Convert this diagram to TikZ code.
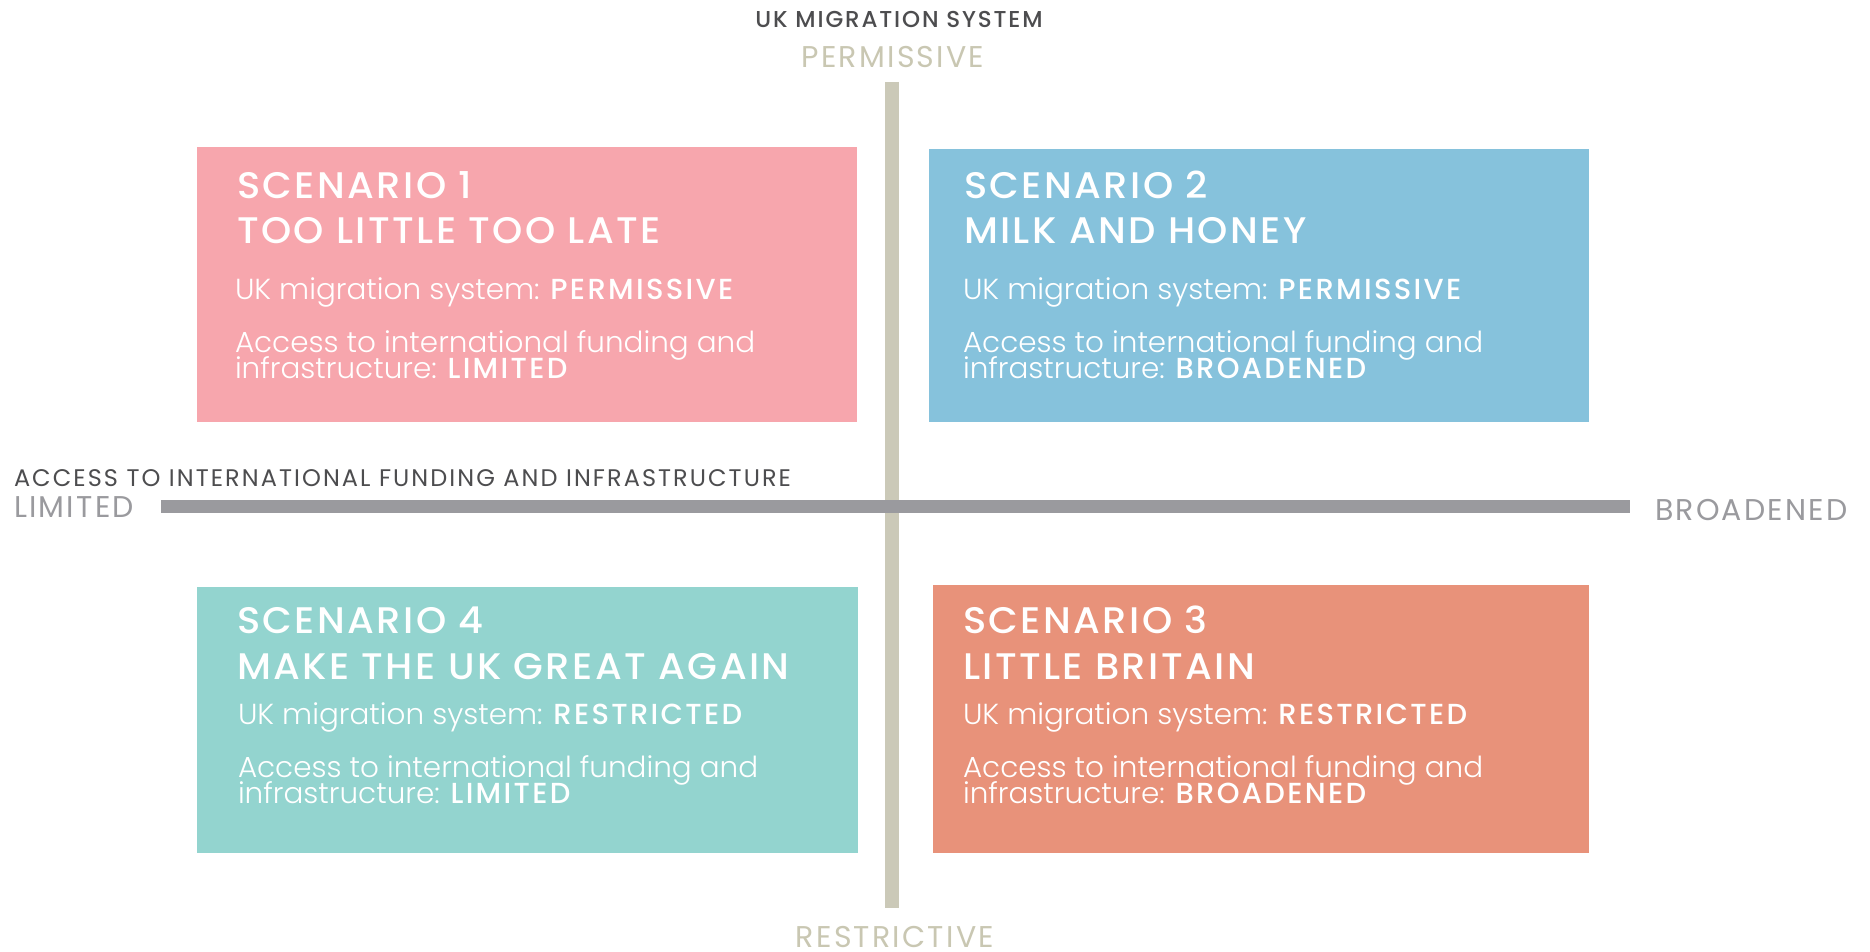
\documentclass[tikz,border=0pt]{standalone}
\usepackage{fontspec}
\IfFontExistsTF{Poppins Light}{\newfontfamily\fbody{Poppins Light}[FakeStretch=1.015]}{\newfontfamily\fbody{Poppins}[FakeStretch=1.015]}
\IfFontExistsTF{Poppins Medium}{%
  \newfontfamily\fmedA{Poppins Medium}[LetterSpace=6.5,FakeStretch=1.04]%
  \newfontfamily\fmedB{Poppins Medium}[LetterSpace=8]%
  \newfontfamily\fmedC{Poppins Medium}[LetterSpace=8]%
}{%
  \newfontfamily\fmedA{Poppins}[LetterSpace=6.5,FakeStretch=1.04]%
  \newfontfamily\fmedB{Poppins}[LetterSpace=8]%
  \newfontfamily\fmedC{Poppins}[LetterSpace=8]%
}
\newfontfamily\fregW{Poppins}[LetterSpace=7.5]
\newfontfamily\fregX{Poppins}[LetterSpace=8.6]
\definecolor{pinkc}{HTML}{F7A6AD}
\definecolor{bluec}{HTML}{86C2DC}
\definecolor{tealc}{HTML}{93D4CF}
\definecolor{salmonc}{HTML}{E8927A}
\definecolor{vlinec}{HTML}{CBC9B8}
\definecolor{axtxt}{HTML}{C9C7B2}
\definecolor{hlinec}{HTML}{9A9A9E}
\definecolor{darkc}{HTML}{4D4D4F}
\tikzset{
  txt/.style={anchor=base west, inner sep=0pt, outer sep=0pt},
  ctxt/.style={anchor=base, inner sep=0pt, outer sep=0pt},
  ttl/.style={txt, text=white, font=\fmedA\fontsize{37}{37}\selectfont},
  bdy/.style={txt, text=white, font=\fbody\fontsize{29}{29}\selectfont},
  axword/.style={text=axtxt, font=\fregW\fontsize{30}{30}\selectfont},
  hword/.style={txt, text=hlinec, font=\fregW\fontsize{30}{30}\selectfont},
}
\newcommand{\mybold}[1]{{\fmedB #1}}
\begin{document}
\begin{tikzpicture}[x=1pt,y=-1pt]
\useasboundingbox (0,0) rectangle (1870,952);
\fill[white] (0,0) rectangle (1870,952);
% boxes
\fill[pinkc] (197,147) rectangle (857,422);
\fill[bluec] (929,149) rectangle (1589,422);
\fill[tealc] (197,587) rectangle (858,853);
\fill[salmonc] (933,585) rectangle (1589,853);
% axes
\coordinate (vtop) at (891.8,82);
\coordinate (vbot) at (891.8,908);
\coordinate (hl) at (161,506.3);
\coordinate (hr) at (1630,506.3);
\draw[vlinec, line width=13.5pt] (vtop) -- (vbot);
\draw[hlinec, line width=12.7pt] (hl) -- (hr);
% axis labels
\node[ctxt, text=darkc, font=\fmedC\fontsize{23}{23}\selectfont] (ukms) at (899,28) {UK MIGRATION SYSTEM};
\node[ctxt, axword] (perm) at (893,68) {PERMISSIVE};
\node[ctxt, axword] (restr) at (895,947) {RESTRICTIVE};
\node[txt, text=darkc, font=\fregX\fontsize{24}{24}\selectfont] (acc) at (14,486) {ACCESS TO INTERNATIONAL FUNDING AND INFRASTRUCTURE};
\node[hword] (lim) at (14,517) {LIMITED};
\node[hword] (broad) at (1655,520) {BROADENED};
% scenario 1
\node[ttl] (s1a) at (237,198) {SCENARIO 1};
\node[ttl] (s1b) at (237,243) {TOO LITTLE TOO LATE};
\node[bdy] (s1c) at (235,299) {UK migration system: \mybold{PERMISSIVE}};
\node[bdy] (s1d) at (235,352) {Access to international funding and};
\node[bdy] (s1e) at (235,378) {infrastructure: \mybold{LIMITED}};
% scenario 2
\node[ttl] (s2a) at (964,198) {SCENARIO 2};
\node[ttl] (s2b) at (964,243) {MILK AND HONEY};
\node[bdy] (s2c) at (963,299) {UK migration system: \mybold{PERMISSIVE}};
\node[bdy] (s2d) at (963,352) {Access to international funding and};
\node[bdy] (s2e) at (963,378) {infrastructure: \mybold{BROADENED}};
% scenario 4
\node[ttl] (s4a) at (237,633) {SCENARIO 4};
\node[ttl] (s4b) at (237,679) {MAKE THE UK GREAT AGAIN};
\node[bdy] (s4c) at (238,724) {UK migration system: \mybold{RESTRICTED}};
\node[bdy] (s4d) at (238,777) {Access to international funding and};
\node[bdy] (s4e) at (238,803) {infrastructure: \mybold{LIMITED}};
% scenario 3
\node[ttl] (s3a) at (963,633) {SCENARIO 3};
\node[ttl] (s3b) at (963,679) {LITTLE BRITAIN};
\node[bdy] (s3c) at (963,724) {UK migration system: \mybold{RESTRICTED}};
\node[bdy] (s3d) at (963,777) {Access to international funding and};
\node[bdy] (s3e) at (963,803) {infrastructure: \mybold{BROADENED}};
\end{tikzpicture}
\end{document}
